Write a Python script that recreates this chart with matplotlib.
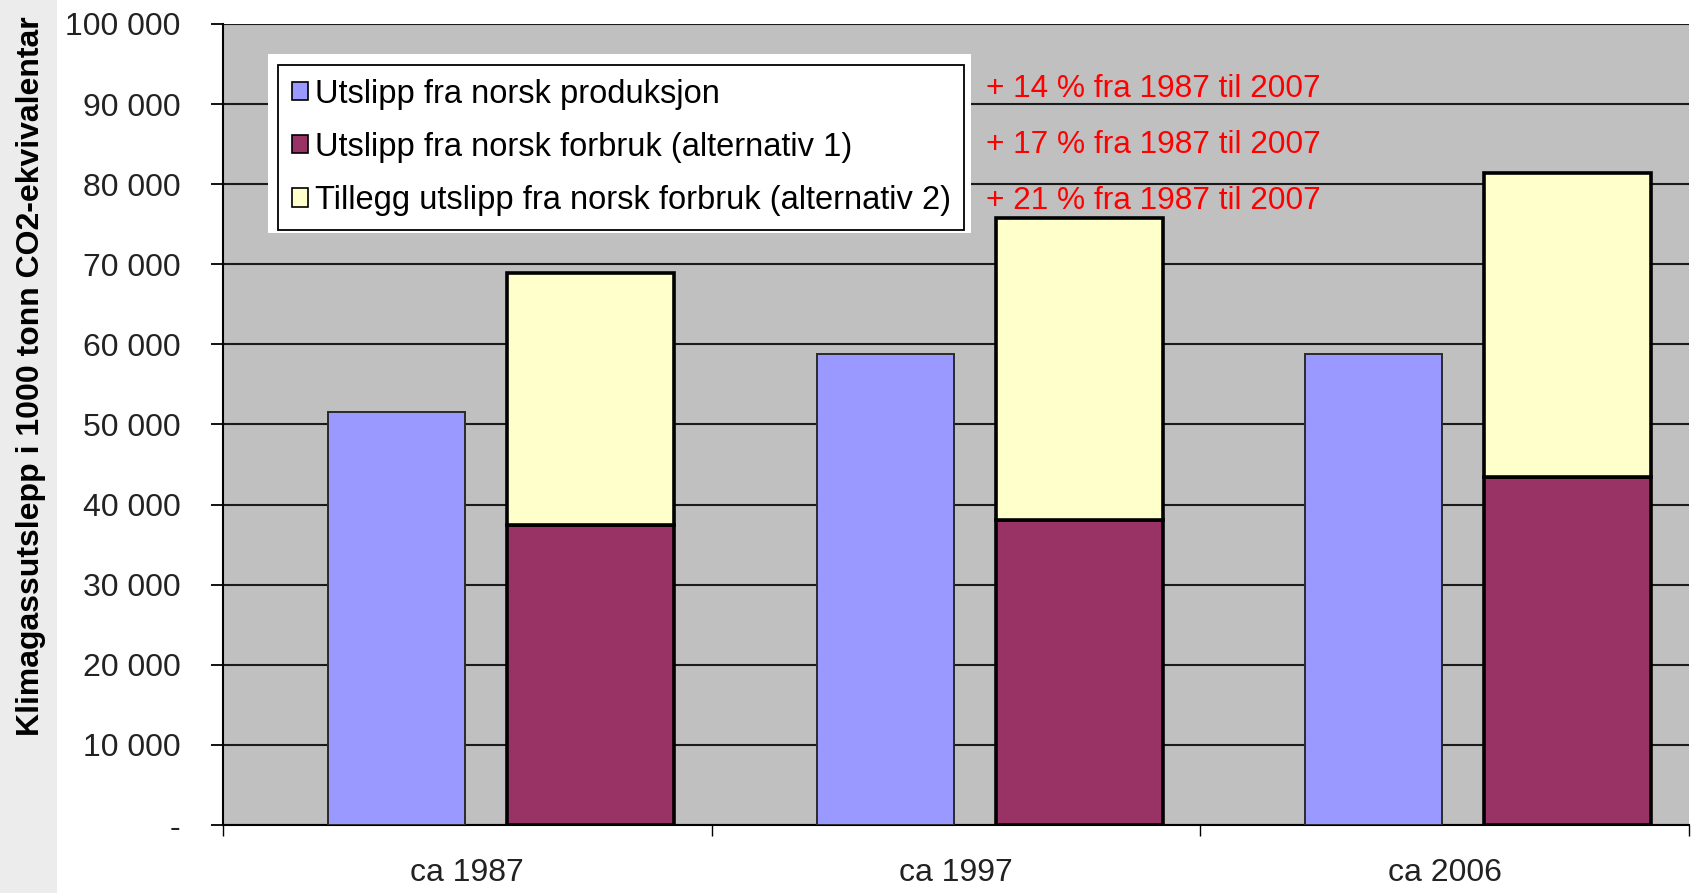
import matplotlib
matplotlib.use("Agg")
import matplotlib.pyplot as plt
from matplotlib.patches import Rectangle, Patch
import numpy as np

categories = ["ca 1987", "ca 1997", "ca 2006"]
production = [51500, 58800, 58800]          # Utslipp fra norsk produksjon
consumption_alt1 = [37500, 38100, 43500]    # Utslipp fra norsk forbruk (alternativ 1)
extra_alt2 = [31400, 37700, 37900]          # Tillegg utslipp (alternativ 2), stacked on alt 1
series_labels = [
    "Utslipp fra norsk produksjon",
    "Utslipp fra norsk forbruk (alternativ 1)",
    "Tillegg utslipp fra norsk forbruk (alternativ 2)",
]
notes = [
    "+ 14 % fra 1987 til 2007",
    "+ 17 % fra 1987 til 2007",
    "+ 21 % fra 1987 til 2007",
]
note_y = [90850, 83900, 76900]
yticks = list(range(0, 100001, 10000))
ytick_labels = ["-"] + [f"{v // 1000} 000" for v in yticks[1:]]
ylabel = "Klimagassutslepp i 1000 tonn CO2-ekvivalentar"

font = "Liberation Sans"
c_blue = "#9999ff"
c_maroon = "#993366"
c_yellow = "#ffffcc"

fig = plt.figure(figsize=(17.01, 8.93), dpi=100)
fig.patches.append(Rectangle((0, 0), 57 / 1701, 1, transform=fig.transFigure,
                             facecolor="#ececec", edgecolor="none", zorder=0))
ax = fig.add_axes([223 / 1701, 1 - 825 / 893, (1689 - 223) / 1701, (825 - 24) / 893])
ax.set_facecolor("#c0c0c0")

x = np.arange(len(categories))
ax.bar(x - 0.145, production, width=0.28, color=c_blue, edgecolor="#2a2a2a",
       linewidth=1.4, zorder=3)
ax.bar(x + 0.252, consumption_alt1, width=0.342, color=c_maroon, edgecolor="black",
       linewidth=2.6, zorder=3)
ax.bar(x + 0.252, extra_alt2, width=0.342, bottom=consumption_alt1, color=c_yellow,
       edgecolor="black", linewidth=2.6, zorder=3)

ax.set_xlim(-0.5, 2.5)
ax.set_ylim(0, 100000)
ax.set_yticks(yticks)
ax.set_yticklabels(ytick_labels, family=font, fontsize=23, color="#222222")
ax.tick_params(axis="y", length=8.5, width=1.3, pad=22, color="black")
ax.yaxis.grid(True, color="#1a1a1a", linewidth=1.5, zorder=1)
ax.set_axisbelow(True)

ax.set_xticks([-0.5, 0.5, 1.5, 2.5])
ax.set_xticklabels([])
ax.set_xticks(x, minor=True)
ax.set_xticklabels(categories, minor=True, family=font, fontsize=23, color="#222222")
ax.tick_params(axis="x", which="major", length=8, width=1, color="black")
ax.tick_params(axis="x", which="minor", length=0, pad=24)

for side in ["top", "right"]:
    ax.spines[side].set_visible(False)
ax.spines["left"].set_linewidth(1.5)
ax.spines["bottom"].set_linewidth(1.5)

for txt, yv in zip(notes, note_y):
    ax.text(1.062, yv, txt, color="red", fontsize=22.8, family=font,
            va="baseline", ha="left", zorder=6)

handles = [Patch(facecolor=c, edgecolor="black", linewidth=1.2)
           for c in [c_blue, c_maroon, c_yellow]]
leg = ax.legend(handles, series_labels, loc="upper left", bbox_to_anchor=(0.0375, 0.949),
                borderaxespad=0, frameon=True, fancybox=False, edgecolor="black",
                facecolor="white", framealpha=1, prop={"family": font, "size": 23.5},
                handlelength=0.5, handleheight=0.5, handletextpad=0.2,
                labelspacing=0.68, borderpad=0.42)
leg.get_frame().set_linewidth(1.3)
leg.set_zorder(8)
ax.add_patch(Rectangle((0.0307, 0.739), 0.510 - 0.0307, 0.9625 - 0.739,
                       transform=ax.transAxes, facecolor="white", edgecolor="none",
                       zorder=7))

fig.text(31 / 1701, 1 - 376 / 893, ylabel, rotation=90, ha="center", va="center",
         family=font, fontweight="bold", fontsize=23, color="black")

fig.savefig("out.png", dpi=100)
